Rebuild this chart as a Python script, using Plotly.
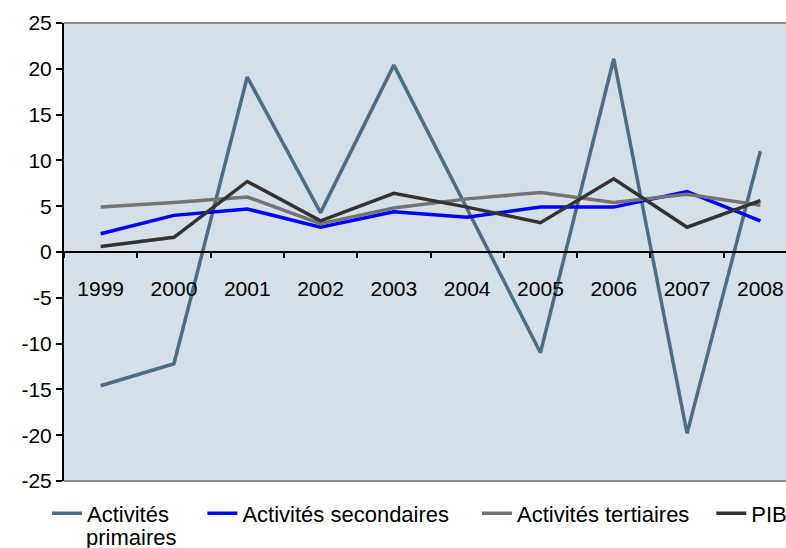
import plotly.graph_objects as go

years = ["1999", "2000", "2001", "2002", "2003", "2004", "2005", "2006", "2007", "2008"]
primaires = [-14.6, -12.2, 19.1, 4.3, 20.4, 4.7, -11.0, 21.1, -19.8, 11.0]
secondaires = [2.0, 4.0, 4.7, 2.7, 4.4, 3.8, 4.9, 4.9, 6.6, 3.4]
tertiaires = [4.9, 5.4, 6.0, 3.1, 4.8, 5.8, 6.5, 5.4, 6.3, 5.1]
pib = [0.6, 1.6, 7.7, 3.4, 6.4, 4.9, 3.2, 8.0, 2.7, 5.6]
ytick_vals = [-25, -20, -15, -10, -5, 0, 5, 10, 15, 20, 25]
ytick_text = ["-25", "-20", "-15", "-10", "-5", "0", "5", "10", "15", "20", "25"]

# first legend label is wrapped on two lines in the original ("Activités" / "primaires")
names = ["Activités", "Activités secondaires", "Activités tertiaires", "PIB"]
name_wrap = "primaires"
colors = ["#4F6D82", "#0000FF", "#737373", "#333333"]
series = [primaires, secondaires, tertiaires, pib]
legend_ids = ["legend", "legend2", "legend3", "legend4"]
legend_x = [-0.0235, 0.1917, 0.572, 0.8965]

fig = go.Figure()
for name, col, vals, lid in zip(names, colors, series, legend_ids):
    fig.add_trace(go.Scatter(x=years, y=vals, mode="lines", name=name, legend=lid,
                             line=dict(color=col, width=3.5)))

font = dict(family="Liberation Sans, Arial, sans-serif", size=21, color="#000")

legends = {}
for lid, lx in zip(legend_ids, legend_x):
    legends[lid] = dict(orientation="h", x=lx, xanchor="left", y=-0.025, yanchor="top",
                        font=dict(size=22), bgcolor="rgba(0,0,0,0)", valign="top")

fig.update_layout(
    width=786, height=548,
    margin=dict(l=64, r=0, t=23, b=67, autoexpand=False),
    paper_bgcolor="white",
    plot_bgcolor="#D5DFE7",
    font=font,
    showlegend=True,
    xaxis=dict(type="category", range=[-0.5, 9.35], anchor="free", position=0.5,
               showline=True, linecolor="black", linewidth=2,
               ticks="outside", tickson="boundaries", ticklen=5, tickcolor="black", tickwidth=2,
               ticklabelstandoff=18, showgrid=False, zeroline=False, automargin=False,
               tickfont=dict(size=21)),
    yaxis=dict(range=[-25, 25], tickvals=ytick_vals, ticktext=ytick_text,
               showline=True, linecolor="black", linewidth=2,
               ticks="outside", ticklen=6, tickcolor="black", tickwidth=2,
               showgrid=False, zeroline=False, automargin=False, tickfont=dict(size=21)),
    shapes=[
        dict(type="line", xref="paper", yref="paper", x0=0, x1=1, y0=1, y1=1,
             line=dict(color="#8A8A8A", width=2)),
        dict(type="line", xref="paper", yref="paper", x0=0, x1=1, y0=0, y1=0,
             line=dict(color="#8A8A8A", width=2)),
    ],
    annotations=[
        dict(text=name_wrap, xref="paper", yref="paper", x=0.029, y=-0.1225,
             xanchor="left", yanchor="middle", showarrow=False, borderpad=0,
             font=dict(size=22, color="#000"))
    ],
    **legends,
)

fig.write_html("out.html", config={"displayModeBar": False},
               post_script="document.body.style.margin='0';document.body.style.overflow='hidden';")
